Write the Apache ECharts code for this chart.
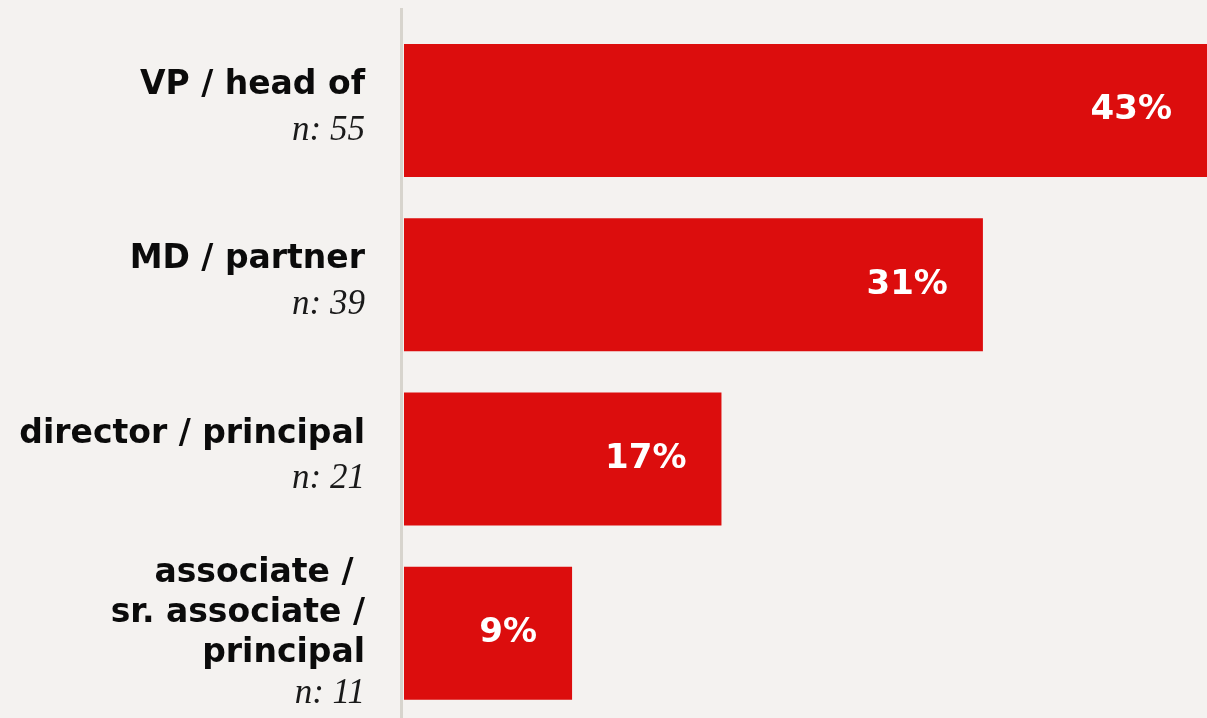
<!DOCTYPE html>
<html>
<head>
<meta charset="utf-8">
<title>Respondents by seniority</title>
<script src="https://cdn.jsdelivr.net/npm/echarts@6/dist/echarts.min.js"></script>
<style>
  html, body { margin: 0; padding: 0; background: #f4f2f0; }
  #chart { width: 1207px; height: 718px; }
</style>
</head>
<body>
<div id="chart"></div>
<script>
// Seniority groups (top to bottom), respondent counts and share of respondents (%)
const roles = ['VP / head of', 'MD / partner', 'director / principal', 'associate / \nsr. associate /\nprincipal'];
const counts = [55, 39, 21, 11];
const shares = [43, 31, 17, 9];

const W = 1207, H = 718;
const axisX = 404;        // left edge of the bars
const gridTop = 23.35;
const gridBottom = -2.5;

const chart = echarts.init(document.getElementById('chart'), null, { renderer: 'canvas' });

chart.setOption({
  animation: false,
  backgroundColor: '#f4f2f0',
  grid: {
    left: axisX,
    right: 0,
    top: gridTop,
    bottom: gridBottom,
    outerBoundsMode: 'none'
  },
  xAxis: {
    type: 'value',
    min: 0,
    max: 43,
    show: false
  },
  yAxis: {
    type: 'category',
    data: roles,
    inverse: true,
    axisLine: { show: false },
    axisTick: { show: false },
    splitLine: { show: false },
    axisLabel: {
      margin: 39,
      align: 'right',
      formatter: function (value, idx) {
        const lines = value.split('\n');
        const multi = lines.length > 1;
        const head = lines.map(l => '{b|' + l + '}').join('\n');
        return head + '\n{' + (multi ? 'nt' : 'n') + '|n: ' + counts[idx] + '}';
      },
      rich: {
        b: {
          fontFamily: 'DejaVu Sans',
          fontWeight: 'bold',
          fontSize: 33,
          color: '#0b0b0b',
          lineHeight: 40,
          align: 'right'
        },
        n: {
          fontFamily: 'Liberation Serif',
          fontStyle: 'italic',
          fontSize: 35,
          color: '#1a1a1a',
          lineHeight: 50,
          align: 'right'
        },
        nt: {
          fontFamily: 'Liberation Serif',
          fontStyle: 'italic',
          fontSize: 35,
          color: '#1a1a1a',
          lineHeight: 40,
          align: 'right'
        }
      }
    }
  },
  series: [{
    type: 'bar',
    data: shares,
    barWidth: 133,
    itemStyle: { color: '#dc0d0d' },
    label: {
      show: true,
      position: 'insideRight',
      distance: 35,
      formatter: p => p.value + '%',
      fontFamily: 'DejaVu Sans',
      fontWeight: 'bold',
      fontSize: 34,
      color: '#ffffff'
    }
  }],
  graphic: [{
    type: 'line',
    shape: { x1: axisX - 2.5, y1: 8, x2: axisX - 2.5, y2: H },
    style: { stroke: '#d7d4cd', lineWidth: 3 },
    z: 10
  }]
});
</script>
</body>
</html>
